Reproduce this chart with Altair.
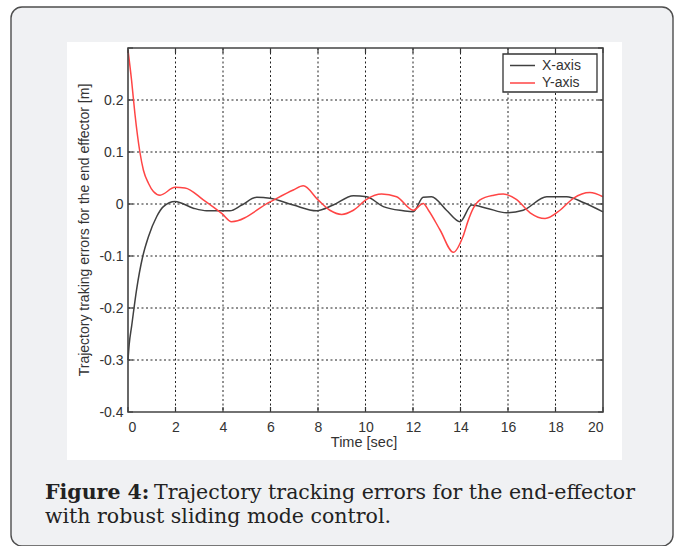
import altair as alt
import pandas as pd

# ---------------- data ----------------
series = ["X-axis", "Y-axis"]
series_colors = ["#404040", "#ff4545"]

time_x = [0, 0.05, 0.15, 0.36, 0.62, 0.86, 1.21, 1.49, 1.98, 2.75, 3.31, 4.29,
          4.79, 5.42, 5.98, 6.96, 7.94, 8.64, 9.49, 10.05, 10.75, 11.59, 12.01,
          12.43, 12.78, 13.41, 13.98, 14.47, 15.1, 15.94, 16.64, 17.63, 18.47,
          19.17, 20]
err_x = [-0.30, -0.27, -0.236, -0.165, -0.101, -0.063, -0.024, -0.005, 0.005,
         -0.008, -0.013, -0.013, -0.002, 0.013, 0.011, -0.002, -0.013, -0.002,
         0.016, 0.014, -0.005, -0.013, -0.015, 0.013, 0.014, -0.012, -0.034,
         -0.002, -0.008, -0.017, -0.012, 0.014, 0.014, 0.003, -0.015]

time_y = [0, 0.15, 0.29, 0.5, 0.65, 0.86, 1.07, 1.35, 1.98, 2.4, 3.17, 3.97,
          4.36, 5.98, 6.96, 7.38, 8.0, 8.5, 9.0, 9.49, 10.05, 10.68, 11.31,
          12.01, 12.43, 12.65, 13.14, 13.7, 14.1, 14.33, 14.54, 14.82, 15.4,
          15.8, 16.35, 16.93, 17.56, 18.19, 18.75, 19.45, 20]
err_y = [0.296, 0.238, 0.174, 0.10, 0.065, 0.04, 0.024, 0.017, 0.032, 0.031,
         0.008, -0.019, -0.034, 0.004, 0.027, 0.035, 0.008, -0.012, -0.02,
         -0.012, 0.009, 0.019, 0.014, -0.012, 0.001, -0.012, -0.05, -0.093,
         -0.063, -0.031, -0.008, 0.008, 0.017, 0.019, 0.009, -0.017, -0.028,
         -0.012, 0.011, 0.022, 0.014]

x_ticks = [0, 2, 4, 6, 8, 10, 12, 14, 16, 18, 20]
y_ticks = [-0.4, -0.3, -0.2, -0.1, 0, 0.1, 0.2, 0.3]
y_labels_at = [-0.4, -0.3, -0.2, -0.1, 0, 0.1, 0.2]
x_grid = [2, 4, 6, 8, 10, 12, 14, 16, 18]
y_grid = [-0.3, -0.2, -0.1, 0, 0.1, 0.2]

x_title = "Time [sec]"
y_title = "Trajectory traking errors for the end effector [m]"
caption_bold = "Figure 4:"
caption_rest1 = "Trajectory tracking errors for the end-effector"
caption_line2 = "with robust sliding mode control."

# ---------------- layout ----------------
W, H = 475, 364          # plot area
PL, PT = 128, 48         # plot origin on the page
SANS = "Liberation Sans"
SERIF = "DejaVu Serif"

df = pd.concat([
    pd.DataFrame({"t": time_x, "e": err_x, "s": series[0]}),
    pd.DataFrame({"t": time_y, "e": err_y, "s": series[1]}),
])

xs = alt.Scale(domain=[0, 20], nice=False, zero=False)
ys = alt.Scale(domain=[-0.4, 0.3], nice=False, zero=False)

ax_x = alt.Axis(values=x_ticks, title=None, grid=False, ticks=False, domain=False, zindex=1,
                labelFontSize=14, labelColor="#333333", labelFont=SANS, labelPadding=8)
ax_y = alt.Axis(values=y_labels_at, title=None, grid=False, ticks=False, domain=False, zindex=1,
                labelFontSize=14, labelColor="#333333", labelFont=SANS, labelPadding=5,
                labelExpr="datum.value == 0 ? '0' : (datum.value < 0 ? '-' : '') + format(abs(datum.value), '.1f')")

def X(f):
    return alt.X(f, scale=xs, axis=ax_x)

def Y(f):
    return alt.Y(f, scale=ys, axis=ax_y)

one = pd.DataFrame({"k": [0]})

def px(v):
    return alt.value(v - PL)

def py(v):
    return alt.value(v - PT)

outer_box = alt.Chart(one).mark_rect(
    fill="#f0f1f3", stroke="#4d4d4d", strokeWidth=1.4, cornerRadius=11
).encode(x=px(11), x2=px(673), y=py(7), y2=py(546))

white_box = alt.Chart(one).mark_rect(fill="white").encode(
    x=px(67), x2=px(622), y=py(42), y2=py(460))

vgrid = alt.Chart(pd.DataFrame({"g": x_grid})).mark_rule(
    color="#222222", strokeWidth=1, strokeDash=[2, 2.5]
).encode(x=X("g:Q"), y=alt.value(0), y2=alt.value(H))

hgrid = alt.Chart(pd.DataFrame({"g": y_grid})).mark_rule(
    color="#222222", strokeWidth=1, strokeDash=[2, 2.5]
).encode(y=Y("g:Q"), x=alt.value(0), x2=alt.value(W))

tick_len = 5
xt = pd.DataFrame({"g": x_ticks})
yt = pd.DataFrame({"g": y_ticks})
xticks_b = alt.Chart(xt).mark_rule(color="#333333", strokeWidth=1.2).encode(
    x=X("g:Q"), y=alt.value(H), y2=alt.value(H - tick_len))
xticks_t = alt.Chart(xt).mark_rule(color="#333333", strokeWidth=1.2).encode(
    x=X("g:Q"), y=alt.value(0), y2=alt.value(tick_len))
yticks_l = alt.Chart(yt).mark_rule(color="#333333", strokeWidth=1.2).encode(
    y=Y("g:Q"), x=alt.value(0), x2=alt.value(tick_len))
yticks_r = alt.Chart(yt).mark_rule(color="#333333", strokeWidth=1.2).encode(
    y=Y("g:Q"), x=alt.value(W), x2=alt.value(W - tick_len))

lines = alt.Chart(df).mark_line(strokeWidth=1.5, interpolate="monotone").encode(
    x=X("t:Q"),
    y=Y("e:Q"),
    color=alt.Color("s:N", scale=alt.Scale(domain=series, range=series_colors), legend=None),
    detail="s:N",
)

frame = alt.Chart(one).mark_rect(fill=None, stroke="#444444", strokeWidth=1.6).encode(
    x=alt.value(0), x2=alt.value(W), y=alt.value(0), y2=alt.value(H))

# legend (manual, MATLAB style box)
leg_box = alt.Chart(one).mark_rect(fill="white", stroke="#333333", strokeWidth=1.3).encode(
    x=px(503), x2=px(597), y=py(54), y2=py(92))
leg_layers = [leg_box]
for i, (name, col) in enumerate(zip(series, series_colors)):
    yy = 65.5 + i * 17.5
    leg_layers.append(alt.Chart(one).mark_rule(color=col, strokeWidth=1.5).encode(
        x=px(510), x2=px(535), y=py(yy)))
    leg_layers.append(alt.Chart(pd.DataFrame({"n": [name]})).mark_text(
        align="left", baseline="middle", font=SANS, fontSize=14, color="#333333"
    ).encode(text="n:N", x=px(542), y=py(yy)))

xtitle = alt.Chart(pd.DataFrame({"n": [x_title]})).mark_text(
    align="center", baseline="middle", font=SANS, fontSize=14.5, color="#333333"
).encode(text="n:N", x=px(364), y=py(443))
ytitle = alt.Chart(pd.DataFrame({"n": [y_title]})).mark_text(
    align="center", baseline="middle", font=SANS, fontSize=14, color="#333333", angle=270
).encode(text="n:N", x=px(85), y=py(230))

cap1a = alt.Chart(pd.DataFrame({"n": [caption_bold]})).mark_text(
    align="left", baseline="alphabetic", font=SERIF, fontSize=20.5, fontWeight="bold", color="#222222"
).encode(text="n:N", x=px(45), y=py(499))
cap1b = alt.Chart(pd.DataFrame({"n": [caption_rest1]})).mark_text(
    align="right", baseline="alphabetic", font=SERIF, fontSize=20.5, color="#222222"
).encode(text="n:N", x=px(635), y=py(499))
cap2 = alt.Chart(pd.DataFrame({"n": [caption_line2]})).mark_text(
    align="left", baseline="alphabetic", font=SERIF, fontSize=20.5, color="#222222"
).encode(text="n:N", x=px(45), y=py(523))

chart = alt.layer(
    outer_box, white_box, vgrid, hgrid, lines, xticks_b, xticks_t, yticks_l, yticks_r,
    frame, *leg_layers, xtitle, ytitle, cap1a, cap1b, cap2
).properties(
    width=W, height=H,
    autosize=alt.AutoSizeParams(type="none"),
    padding={"left": PL, "top": PT, "right": 683 - PL - W, "bottom": 546 - PT - H},
    background="white",
).configure_view(stroke=None)

chart.save("out.html", embed_options={"renderer": "svg", "actions": False})
